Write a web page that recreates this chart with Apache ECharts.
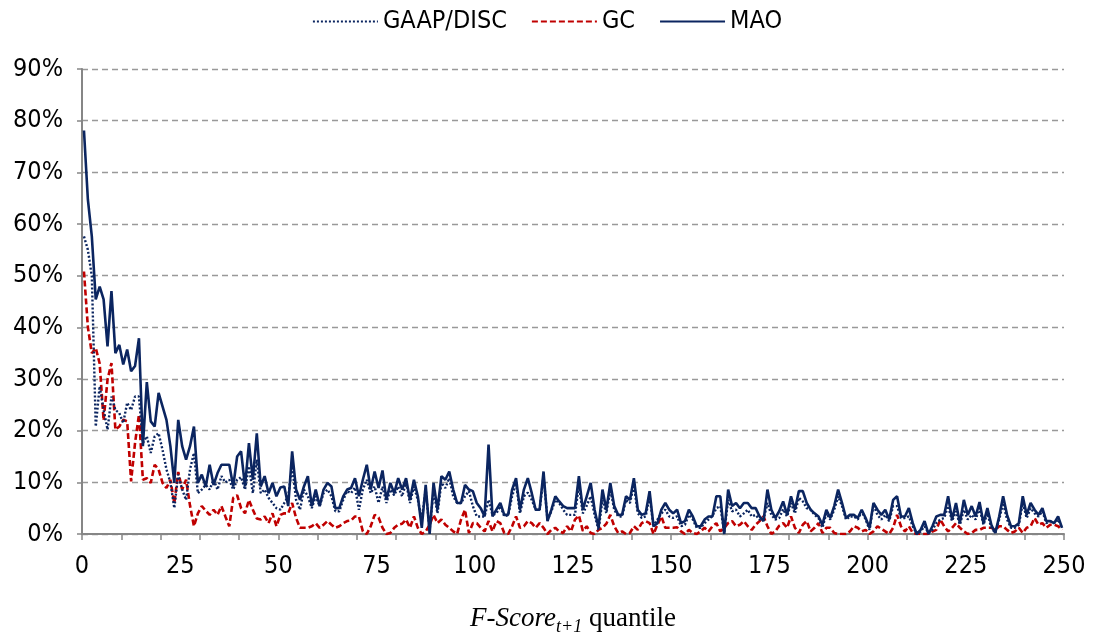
<!DOCTYPE html>
<html>
<head>
<meta charset="utf-8">
<script src="https://cdn.jsdelivr.net/npm/echarts@6/dist/echarts.min.js"></script>
<style>
  html, body { margin: 0; padding: 0; background: #fff; }
  #chart { width: 1094px; height: 637px; }
</style>
</head>
<body>
<div id="chart"></div>
<script>
// share of firms per F-Score quantile (percent)
const mao = [
  78.1, 64.7, 57.6, 45.4, 47.9, 45.4, 36.3, 47.0, 35.0, 36.6,
  32.8, 35.7, 31.5, 32.5, 37.9, 17.0, 29.4, 21.8, 20.8, 27.3,
  24.7, 22.1, 17.0, 9.9, 22.1, 17.0, 14.4, 17.0, 20.8, 9.9,
  11.5, 9.2, 13.4, 9.5, 11.8, 13.4, 13.4, 13.4, 9.2, 15.0,
  16.0, 9.2, 17.6, 10.5, 19.5, 9.2, 11.2, 7.9, 9.9, 7.3,
  9.0, 9.2, 5.4, 16.0, 8.6, 6.6, 9.2, 11.2, 5.4, 8.6,
  5.4, 8.6, 9.9, 9.2, 5.0, 5.0, 7.3, 8.6, 8.9, 10.8,
  7.3, 10.5, 13.4, 8.6, 12.1, 8.9, 12.3, 6.6, 9.9, 7.9,
  10.8, 8.6, 10.8, 6.6, 10.5, 7.3, 1.2, 9.5, 0.0, 9.9,
  4.7, 11.2, 10.5, 12.1, 8.6, 6.0, 6.0, 9.5, 8.6, 8.3,
  6.0, 5.0, 3.4, 17.3, 3.4, 4.7, 6.0, 3.7, 3.7, 8.6,
  10.8, 4.7, 8.6, 10.8, 7.9, 4.7, 4.7, 12.1, 2.5, 4.7,
  7.3, 6.3, 5.4, 5.0, 5.0, 5.0, 11.2, 4.7, 7.3, 9.9,
  4.7, 1.2, 8.6, 4.7, 9.9, 5.4, 3.7, 3.7, 7.3, 6.6,
  10.8, 4.7, 3.7, 4.0, 8.3, 1.5, 2.1, 4.7, 6.0, 4.7,
  4.0, 4.7, 2.1, 2.5, 4.7, 3.4, 1.5, 1.5, 2.8, 3.4,
  3.4, 7.3, 7.3, 0.0, 8.6, 5.4, 6.0, 5.0, 6.0, 6.0,
  5.0, 5.0, 3.4, 2.5, 8.6, 4.7, 3.1, 4.4, 6.3, 3.7,
  7.3, 4.7, 8.3, 8.3, 6.0, 4.7, 4.0, 3.4, 1.8, 4.7,
  3.1, 5.4, 8.6, 6.0, 3.1, 3.7, 3.7, 3.1, 4.7, 3.1,
  1.2, 6.0, 4.7, 3.7, 4.7, 2.8, 6.6, 7.3, 3.4, 3.4,
  5.0, 2.1, 0.0, 0.8, 2.5, 0.0, 1.5, 3.4, 3.7, 3.7,
  7.3, 2.8, 6.0, 2.1, 6.6, 3.7, 5.4, 3.4, 6.2, 2.1,
  5.0, 1.8, 0.2, 3.4, 7.3, 3.7, 1.5, 1.5, 2.1, 7.3,
  3.7, 6.0, 4.7, 3.7, 5.0, 2.5, 2.5, 2.1, 3.4, 1.2
];

const gaapDisc = [
  57.6, 55.0, 49.9, 20.8, 28.6, 24.0, 20.2, 26.6, 24.0, 23.4,
  21.5, 25.4, 24.0, 26.6, 26.6, 17.6, 18.9, 15.7, 18.9, 19.5,
  16.3, 12.5, 10.0, 5.0, 11.5, 8.6, 6.6, 12.5, 15.7, 7.9,
  8.6, 9.5, 8.6, 10.5, 8.6, 11.2, 10.0, 10.5, 8.6, 10.5,
  11.0, 8.6, 13.1, 7.9, 14.4, 7.9, 8.6, 7.0, 6.0, 5.0,
  4.7, 6.0, 7.3, 13.1, 6.6, 4.7, 8.6, 7.3, 5.0, 7.3,
  5.4, 7.9, 8.6, 7.3, 4.4, 4.4, 6.6, 8.3, 7.9, 9.0,
  4.7, 8.6, 10.5, 7.9, 9.2, 6.0, 9.2, 6.0, 8.6, 7.5,
  9.2, 7.3, 9.9, 6.0, 9.2, 6.6, 2.8, 8.6, 0.8, 8.3,
  4.0, 9.9, 8.9, 10.8, 7.3, 6.0, 6.0, 7.3, 8.3, 5.4,
  3.4, 3.4, 3.4, 6.6, 3.7, 4.0, 5.4, 3.4, 3.7, 7.3,
  9.9, 4.0, 7.3, 8.0, 6.6, 4.7, 4.7, 11.2, 2.8, 4.4,
  6.6, 6.0, 4.7, 3.7, 3.7, 3.7, 9.5, 4.0, 5.5, 7.3,
  3.7, 0.8, 6.6, 4.0, 8.6, 4.7, 3.4, 3.4, 6.6, 6.0,
  9.5, 4.0, 3.1, 3.4, 7.3, 1.5, 2.8, 4.0, 4.7, 3.4,
  3.1, 3.4, 1.5, 1.8, 3.7, 2.8, 1.2, 1.2, 2.1, 2.8,
  3.5, 5.0, 5.4, 0.2, 6.6, 4.4, 4.7, 3.4, 4.0, 4.7,
  3.4, 3.7, 2.8, 2.8, 6.0, 3.7, 2.8, 3.1, 4.8, 3.4,
  6.0, 4.0, 7.0, 6.3, 5.0, 4.7, 3.7, 3.1, 1.2, 4.0,
  2.8, 4.7, 7.3, 5.4, 2.8, 3.4, 3.4, 2.8, 4.4, 2.8,
  0.8, 5.7, 3.7, 2.8, 3.7, 2.5, 5.4, 5.4, 3.1, 3.1,
  3.4, 1.5, 0.0, 0.5, 1.5, 0.2, 0.8, 2.1, 2.8, 3.1,
  5.4, 2.5, 4.4, 1.8, 4.7, 2.8, 3.7, 2.8, 5.0, 1.8,
  4.0, 1.2, 0.2, 2.8, 6.0, 2.8, 1.2, 1.2, 1.8, 6.0,
  3.1, 5.0, 4.0, 3.4, 4.4, 2.1, 2.5, 2.1, 2.8, 1.2
];

const gc = [
  50.8, 40.0, 35.0, 36.0, 33.0, 22.0, 29.9, 33.1, 20.2, 20.8,
  22.1, 21.8, 10.2, 17.6, 23.1, 10.5, 10.8, 9.9, 13.4, 12.5,
  9.9, 8.9, 10.5, 6.0, 12.0, 8.6, 10.5, 5.5, 1.5, 4.0,
  5.4, 4.5, 3.7, 4.7, 3.7, 5.4, 3.4, 1.5, 7.0, 7.5,
  5.0, 4.0, 6.6, 4.7, 3.0, 2.8, 3.4, 2.1, 4.0, 1.5,
  3.7, 4.0, 4.0, 6.0, 3.1, 1.2, 1.2, 1.2, 1.5, 2.1,
  1.2, 1.8, 2.5, 1.8, 1.2, 1.5, 2.1, 2.5, 2.6, 3.4,
  3.4, 0.5, 0.0, 1.5, 3.7, 3.2, 1.2, 0.0, 0.2, 1.2,
  1.8, 2.0, 2.8, 1.2, 3.4, 1.2, 0.0, 0.5, 1.8, 3.7,
  2.1, 2.8, 1.8, 1.2, 0.5, 0.0, 2.8, 4.7, 0.2, 2.1,
  2.1, 1.2, 0.5, 2.5, 0.5, 2.5, 2.1, 0.2, 0.0, 1.5,
  3.4, 1.2, 1.5, 2.5, 2.1, 1.2, 2.1, 1.2, 0.0, 0.8,
  1.2, 0.5, 0.2, 1.5, 0.5, 2.8, 3.6, 0.6, 1.5, 0.2,
  0.0, 0.8, 1.2, 2.0, 3.7, 1.5, 0.2, 0.5, 0.0, 0.2,
  1.5, 0.8, 2.1, 2.5, 2.1, 0.0, 1.8, 3.4, 1.2, 1.2,
  1.2, 1.3, 0.5, 0.0, 0.8, 0.2, 0.0, 0.5, 1.2, 0.5,
  1.5, 2.1, 0.5, 1.2, 2.1, 2.5, 1.5, 1.8, 2.5, 1.5,
  0.8, 1.8, 2.5, 3.4, 1.5, 0.0, 0.5, 1.6, 2.1, 1.2,
  3.4, 1.2, 0.2, 1.8, 2.5, 0.5, 1.2, 2.1, 0.2, 1.2,
  1.2, 0.2, 0.0, 0.0, 0.0, 0.5, 1.5, 1.2, 0.5, 0.8,
  0.0, 0.5, 1.5, 1.0, 0.5, 0.0, 1.2, 3.7, 1.5, 0.5,
  1.5, 0.2, 0.0, 0.0, 0.0, 0.0, 0.5, 0.8, 2.8, 1.5,
  0.5, 1.2, 2.1, 1.2, 0.5, 0.0, 0.2, 0.8, 0.8, 1.2,
  1.2, 1.2, 0.8, 1.5, 1.5, 0.8, 0.2, 0.5, 1.2, 0.2,
  1.2, 1.5, 3.1, 1.8, 2.1, 1.2, 1.8, 1.8, 1.5, 0.8
];

const quantiles = mao.map((_, i) => i + 1);
const axisFont = "'Liberation Sans Narrow', 'Arial Narrow', 'DejaVu Sans Condensed', sans-serif";
const serif = "'Liberation Serif', 'Times New Roman', serif";
const navy = '#0b2560';
const red = '#c00000';
const grey = '#868686';

const chart = echarts.init(document.getElementById('chart'));

chart.setOption({
  animation: false,
  backgroundColor: '#fff',
  textStyle: { fontFamily: axisFont },
  legend: {
    top: 4,
    left: 'center',
    itemWidth: 65,
    itemHeight: 14,
    itemGap: 24,
    itemStyle: { opacity: 0 },
    textStyle: { fontSize: 25, color: '#000', fontFamily: axisFont },
    data: ['GAAP/DISC', 'GC', 'MAO']
  },
  grid: { left: 82, right: 30, top: 69, bottom: 103, outerBoundsMode: 'none', containLabel: false },
  xAxis: [
    {
      type: 'category',
      data: quantiles,
      boundaryGap: true,
      show: false
    },
    {
      type: 'value',
      position: 'bottom',
      min: 0,
      max: 250,
      interval: 25,
      axisLine: { show: true, onZero: false, lineStyle: { color: grey, width: 2 } },
      axisTick: { show: false },
      splitLine: { show: false },
      axisLabel: { fontSize: 25, color: '#000', margin: 20, fontFamily: axisFont },
      name: '{it|F-Score}{sub|t+1}{rm| quantile}',
      nameLocation: 'middle',
      nameGap: 68,
      nameTextStyle: {
        rich: {
          it: { fontFamily: serif, fontStyle: 'italic', fontSize: 27, color: '#000', lineHeight: 34 },
          sub: { fontFamily: serif, fontStyle: 'italic', fontSize: 18, color: '#000', lineHeight: 34, verticalAlign: 'bottom' },
          rm: { fontFamily: serif, fontSize: 27, color: '#000', lineHeight: 34 }
        }
      }
    },
    {
      type: 'value',
      position: 'bottom',
      min: 0,
      max: 250,
      interval: 10,
      axisLine: { show: false },
      axisTick: { show: true, length: 6, lineStyle: { color: grey, width: 1.5 } },
      axisLabel: { show: false },
      splitLine: { show: false }
    }
  ],
  yAxis: {
    type: 'value',
    min: 0,
    max: 90,
    interval: 10,
    axisLine: { show: true, lineStyle: { color: grey, width: 2 } },
    axisTick: { show: true, length: 5, lineStyle: { color: grey, width: 1.5 } },
    axisLabel: { formatter: '{value}%', fontSize: 25, color: '#000', margin: 19, fontFamily: axisFont },
    splitLine: { show: true, lineStyle: { color: '#999', width: 1.3, type: [6, 4] } }
  },
  series: [
    {
      name: 'GAAP/DISC',
      type: 'line',
      xAxisIndex: 0,
      data: gaapDisc,
      symbol: 'none',
      color: navy,
      lineStyle: { color: navy, width: 2.4, type: [2, 2] },
      z: 3
    },
    {
      name: 'GC',
      type: 'line',
      xAxisIndex: 0,
      data: gc,
      symbol: 'none',
      color: red,
      lineStyle: { color: red, width: 2.6, type: [6, 3] },
      z: 2
    },
    {
      name: 'MAO',
      type: 'line',
      xAxisIndex: 0,
      data: mao,
      symbol: 'none',
      color: navy,
      lineStyle: { color: navy, width: 2.6 },
      z: 4
    }
  ]
});
</script>
</body>
</html>
